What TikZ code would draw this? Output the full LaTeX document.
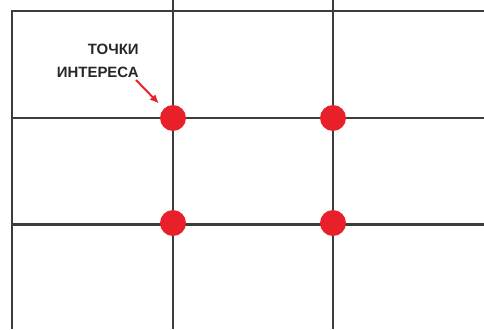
\documentclass[tikz,border=0pt]{standalone}
\usepackage{fontspec}
\usepackage{xcolor}
\newfontfamily\notefont{Liberation Sans}
\usetikzlibrary{positioning,arrows.meta}

\definecolor{gridgray}{HTML}{3C3C3C}
\definecolor{dotred}{HTML}{E8202A}

\begin{document}
\begin{tikzpicture}[
  x=0.02cm, y=-0.02cm,
  every node/.style={font=\notefont\bfseries\fontsize{8.5}{12.75}\selectfont},
  frameline/.style={draw=gridgray, line width=1.1pt},
  gridline/.style={draw=gridgray, line width=1.7pt},
  hotspot/.style={circle, fill=dotred, inner sep=0pt, minimum size=0.52cm},
  pointer/.style={draw=dotred, line width=1.1pt, -{Latex[length=5pt,width=4.5pt]}, shorten >=4pt}
]
\useasboundingbox (0,0) rectangle (484,329);
% frame and thirds
\draw[frameline] (12,329) -- (12,11) -- (484,11);
\foreach \y in {118,224}
  \draw[gridline] (12,\y) -- (484,\y);
\foreach \x in {173,333}
  \draw[gridline] (\x,0) -- (\x,329);
% points of interest
\foreach \name/\x/\y in {tl/173/118, tr/333/118, bl/173/223, br/333/223}
  \node[hotspot] (\name) at (\x,\y) {};
\node[anchor=east, align=right, inner sep=0pt, text=black!85] (note) at (139,61) {ТОЧКИ\\ИНТЕРЕСА};
\coordinate (notetail) at (136,80);
\draw[pointer] (notetail) -- (tl);
\end{tikzpicture}
\end{document}
